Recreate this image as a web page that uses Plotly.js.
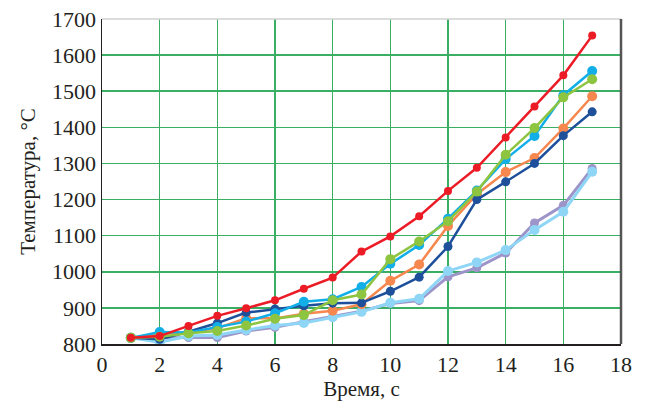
<!DOCTYPE html>
<html>
<head>
<meta charset="utf-8">
<script src="https://cdn.plot.ly/plotly-3.0.1.min.js"></script>
<style>html,body{margin:0;padding:0;background:#fff;}#chart{width:650px;height:403px;}</style>
</head>
<body>
<div id="chart"></div>
<script>
const timeSec = [1, 2, 3, 4, 5, 6, 7, 8, 9, 10, 11, 12, 13, 14, 15, 16, 17];
const seriesPurple    = [817, 818, 818, 818, 836, 846, 862, 876, 891, 912, 920, 986, 1011, 1052, 1135, 1184, 1286];
const seriesLightBlue = [817, 805, 822, 825, 839, 851, 858, 874, 889, 914, 925, 1002, 1026, 1060, 1116, 1166, 1277];
const seriesOrange    = [817, 828, 832, 844, 871, 871, 884, 892, 910, 975, 1020, 1127, 1215, 1276, 1315, 1397, 1486];
const seriesDarkBlue  = [817, 813, 834, 858, 887, 897, 906, 913, 914, 946, 985, 1070, 1200, 1249, 1300, 1377, 1443];
const seriesCyan      = [817, 833, 832, 847, 862, 885, 917, 924, 958, 1022, 1074, 1147, 1225, 1312, 1376, 1489, 1556];
const seriesGreen     = [817, 820, 830, 836, 851, 870, 880, 921, 937, 1035, 1084, 1140, 1222, 1324, 1398, 1483, 1533];
const seriesRed       = [817, 822, 850, 878, 899, 921, 953, 984, 1056, 1098, 1154, 1224, 1288, 1372, 1458, 1544, 1654];

const xTicks = [0, 2, 4, 6, 8, 10, 12, 14, 16, 18];
const yTicks = [800, 900, 1000, 1100, 1200, 1300, 1400, 1500, 1600, 1700];

function tr(y, color, msize, lw) {
  return {x: timeSec, y: y, type: 'scatter', mode: 'lines+markers',
    line: {color: color, width: lw}, marker: {color: color, size: msize},
    showlegend: false, hoverinfo: 'skip'};
}
const data = [
  tr(seriesPurple, '#9d94c9', 9, 3),
  tr(seriesLightBlue, '#8fd6f6', 10, 3),
  tr(seriesOrange, '#f5874f', 10, 2.5),
  tr(seriesDarkBlue, '#1d4f9b', 9, 2.5),
  tr(seriesCyan, '#12aee8', 10, 2.5),
  tr(seriesGreen, '#8dc540', 10, 2.5),
  tr(seriesRed, '#ec1c27', 8, 2.5)
];
const font = {family: '"Liberation Serif", "Times New Roman", serif', size: 21, color: '#231f20'};
const tickFont = {family: '"Liberation Serif", "Times New Roman", serif', size: 22, color: '#231f20'};
const layout = {
  width: 650, height: 403,
  margin: {l: 102, r: 29, t: 19, b: 59},
  paper_bgcolor: '#fff', plot_bgcolor: '#fff',
  font: font,
  xaxis: {range: [0, 18], tickvals: xTicks, ticktext: xTicks.map(String),
    showgrid: true, gridcolor: '#3aae62', gridwidth: 1.5, zeroline: false,
    showline: true, linecolor: '#231f20', linewidth: 1.5, ticks: '',
    tickfont: tickFont, title: {text: 'Время, с', font: font, standoff: 5}},
  yaxis: {range: [800, 1700], tickvals: yTicks, ticktext: yTicks.map(String),
    showgrid: true, gridcolor: '#3aae62', gridwidth: 1.5, zeroline: false,
    showline: true, linecolor: '#231f20', linewidth: 1.5, ticks: '',
    tickfont: tickFont, title: {text: 'Температура, °C', font: font, standoff: 10}},
  shapes: [
    {type: 'line', xref: 'paper', yref: 'paper', x0: 0, x1: 1, y0: 1, y1: 1, line: {color: '#d0d0d0', width: 1.5}},
    {type: 'line', xref: 'paper', yref: 'paper', x0: 1, x1: 1, y0: 0, y1: 1, line: {color: '#555', width: 2.5}}
  ]
};
Plotly.newPlot('chart', data, layout, {displayModeBar: false, staticPlot: true});
</script>
</body>
</html>
